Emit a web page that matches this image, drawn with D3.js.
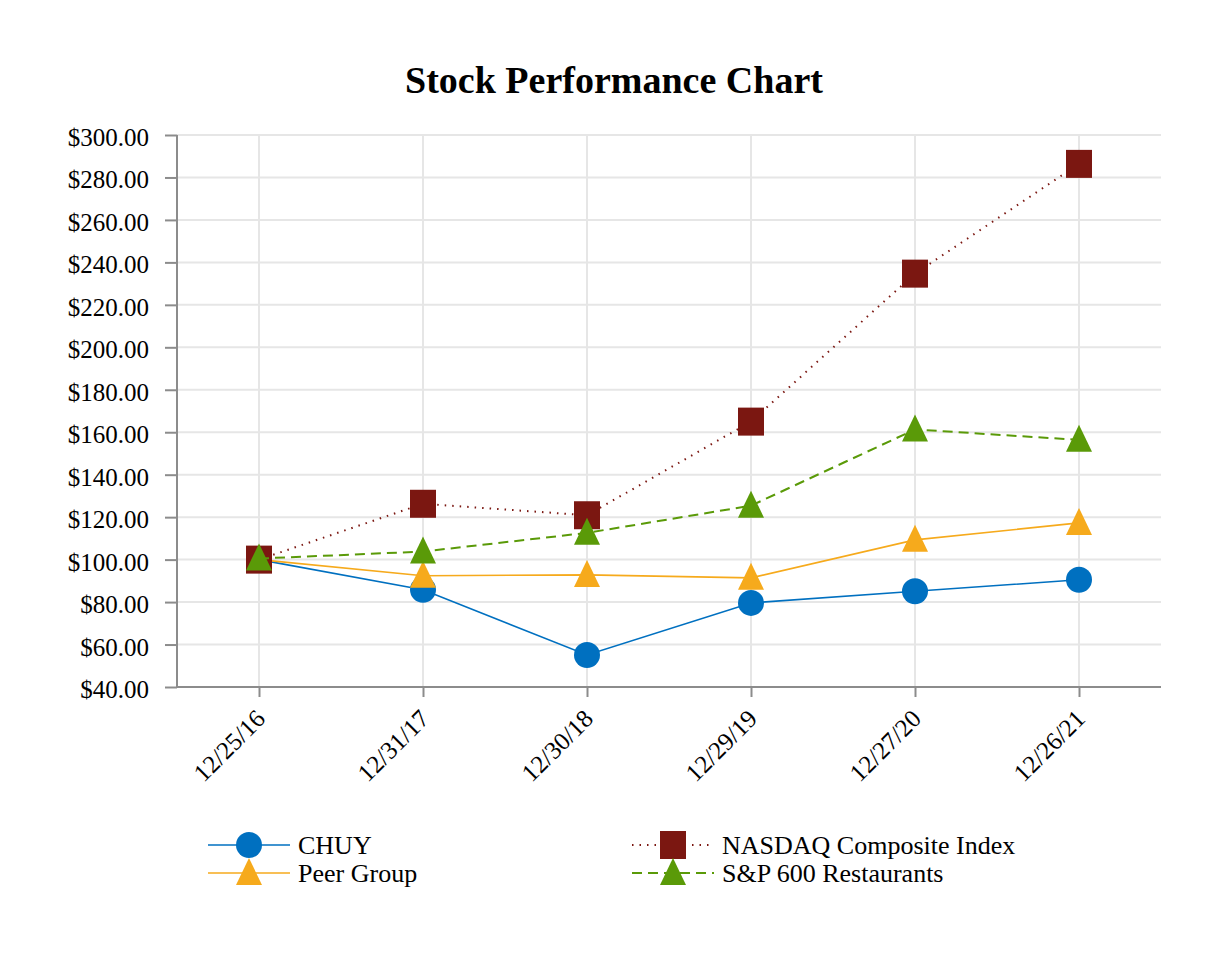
<!DOCTYPE html>
<html>
<head>
<meta charset="utf-8">
<script src="https://cdn.jsdelivr.net/npm/d3@7"></script>
<style>
  body { margin: 0; background: #fff; }
  text { font-family: "Liberation Serif", "Times New Roman", serif; fill: #000; }
</style>
</head>
<body>
<svg id="chart" width="1226" height="960"></svg>
<script>
// data
const dates = ["12/25/16", "12/31/17", "12/30/18", "12/29/19", "12/27/20", "12/26/21"];
const chuy = [100, 85.8, 55.1, 79.6, 85.1, 90.5];
const peer = [100, 92.4, 92.8, 91.4, 109.3, 117.3];
const nasdaq = [100, 126.3, 120.9, 165.0, 234.7, 286.4];
const sp600 = [100.5, 103.8, 112.6, 125.4, 161.3, 156.4];
const yTicks = [40, 60, 80, 100, 120, 140, 160, 180, 200, 220, 240, 260, 280, 300];

const series = [
  { name: "CHUY", values: chuy, color: "#0070c0", shape: "circle", dash: null, width: 1.6 },
  { name: "Peer Group", values: peer, color: "#f6aa1c", shape: "triangle", dash: null, width: 1.6 },
  { name: "NASDAQ Composite Index", values: nasdaq, color: "#7b1711", shape: "square", dash: "1.5,6", width: 2 },
  { name: "S&P 600 Restaurants", values: sp600, color: "#5a9a08", shape: "triangle", dash: "10,6", width: 2 }
];

const svg = d3.select("#chart");
const m = { left: 177, right: 1161, top: 135, bottom: 687 };

const x = d3.scalePoint().domain(dates).range([m.left, m.right]).padding(0.5);
const y = d3.scaleLinear().domain([40, 300]).range([m.bottom, m.top]);

svg.append("text")
  .attr("x", 614).attr("y", 93)
  .attr("text-anchor", "middle")
  .style("font-size", "38px").style("font-weight", "bold")
  .text("Stock Performance Chart");

// grid
const grid = svg.append("g");
grid.selectAll("line.h").data(yTicks.slice(1)).enter().append("line")
  .attr("x1", m.left).attr("x2", m.right)
  .attr("y1", d => y(d)).attr("y2", d => y(d))
  .attr("stroke", "#e6e6e6").attr("stroke-width", 2);
grid.selectAll("line.v").data(dates).enter().append("line")
  .attr("x1", d => x(d)).attr("x2", d => x(d))
  .attr("y1", m.top).attr("y2", m.bottom)
  .attr("stroke", "#e6e6e6").attr("stroke-width", 2);

// axes
const yAxis = svg.append("g").attr("transform", `translate(${m.left},0)`)
  .call(d3.axisLeft(y).tickValues(yTicks).tickSize(12).tickPadding(16)
    .tickFormat(d => "$" + d3.format(".2f")(d)));
yAxis.selectAll("text").style("font-size", "25px").style("font-family", "Liberation Serif")
  .attr("dy", "0.42em");
yAxis.selectAll("line, path").attr("stroke", "#8c8c8c").attr("stroke-width", 2);
yAxis.select("path").attr("d", `M0,${m.top}V${m.bottom}`);

const xAxis = svg.append("g").attr("transform", `translate(0,${m.bottom})`)
  .call(d3.axisBottom(x).tickSize(10).tickSizeOuter(0));
xAxis.selectAll("line, path").attr("stroke", "#8c8c8c").attr("stroke-width", 2);
xAxis.select("path").attr("d", `M${m.left},0H${m.right}`);
xAxis.selectAll("text")
  .style("font-size", "25px").style("font-family", "Liberation Serif")
  .attr("text-anchor", "end")
  .attr("transform", "translate(1,27) rotate(-45)")
  .attr("dy", "0.35em").attr("y", 0);

function marker(g, shape, color, cx, cy) {
  if (shape === "circle") {
    g.append("circle").attr("cx", cx).attr("cy", cy).attr("r", 13).attr("fill", color);
  } else if (shape === "square") {
    g.append("rect").attr("x", cx - 13).attr("y", cy - 14).attr("width", 26).attr("height", 28).attr("fill", color);
  } else {
    g.append("path")
      .attr("d", `M${cx},${cy - 15}L${cx + 13},${cy + 12}L${cx - 13},${cy + 12}Z`)
      .attr("fill", color);
  }
}

const line = d3.line().x((d, i) => x(dates[i])).y(d => y(d));
series.forEach(s => {
  const g = svg.append("g");
  g.append("path").datum(s.values)
    .attr("d", line).attr("fill", "none")
    .attr("stroke", s.color).attr("stroke-width", s.width)
    .attr("stroke-dasharray", s.dash);
  s.values.forEach((v, i) => marker(g, s.shape, s.color, x(dates[i]), y(v)));
});

// legend
const legPos = [[208, 845], [208, 873], [632, 845], [632, 873]];
series.forEach((s, k) => {
  const [lx, ly] = legPos[k];
  const g = svg.append("g");
  g.append("line").attr("x1", lx).attr("x2", lx + 82).attr("y1", ly).attr("y2", ly)
    .attr("stroke", s.color).attr("stroke-width", s.width).attr("stroke-dasharray", s.dash);
  marker(g, s.shape, s.color, lx + 41, ly);
  g.append("text").attr("x", lx + 90).attr("y", ly).attr("dy", "0.35em")
    .style("font-size", "26px").text(s.name);
});
</script>
</body>
</html>
